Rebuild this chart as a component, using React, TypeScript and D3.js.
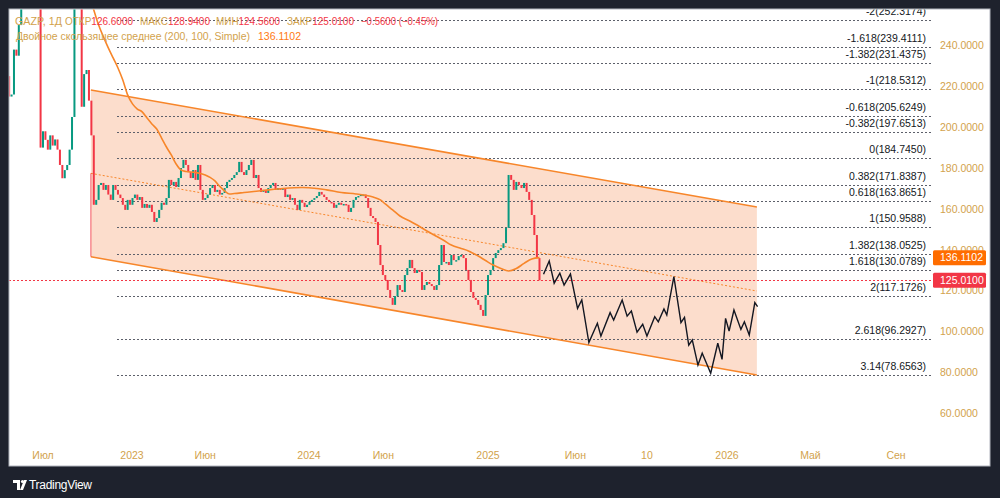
import { useRef, useEffect } from "react";
import * as d3 from "d3";

// ---- data ----
const candleStart = "2022-04-22";
const candleStepDays = 5;
const closes = [
  215, 216, 238, 235, 250, 275, 290, 300, 295, 300, 298, 295, 297, 190, 198, 193.8, 189, 196, 191, 194,
  189, 181.5, 175, 179, 181.5, 189, 205, 270, 290, 285, 210, 226, 228, 213, 196, 162, 164.4, 171.7, 172.7, 169.3,
  171.7, 167, 164.4, 171.7, 169.3, 167, 165.3, 162, 159.5, 164.4, 162, 165.3, 167, 164.4, 165.8, 160.5, 162.4, 160.5, 162, 158.5,
  153.6, 155.5, 159.5, 163, 162, 165.3, 174.2, 171.7, 173.2, 170.7, 175.1, 180, 184, 181.5, 178, 175.1, 179, 174.2, 181.5, 169.3,
  164.4, 165.3, 167, 170.2, 171.7, 168.3, 169.3, 167, 167.8, 170.2, 173.2, 174.2, 175.1, 176.6, 178, 183, 178, 176.6, 179, 181.5,
  184, 175.1, 176.6, 170.2, 168.3, 169.3, 167.8, 170.2, 171.7, 172.7, 169.3, 170.2, 169.3, 170.2, 165.8, 167, 164.4, 165.3, 162, 159.5,
  164.4, 163, 160.9, 162, 163.4, 164.4, 165.3, 166.3, 168.3, 167, 165.8, 164.4, 163.4, 163, 160.5, 162, 163, 162, 162.4, 162,
  158.5, 160.5, 164.4, 165.8, 166.3, 167, 167, 165.3, 160.5, 156.5, 155.5, 153.6, 142.3, 132.5, 127.6, 125.2, 120.3, 116.4, 113, 117.3,
  122.7, 120.3, 119.3, 127.6, 131, 135, 131, 128.6, 130.1, 129.1, 120.3, 122.7, 124.2, 123.2, 122.2, 120.3, 122.7, 132.5, 142.3, 134,
  134, 132.5, 137.4, 134.9, 134.9, 136.9, 137.4, 135.9, 130.1, 125.2, 119.3, 116.4, 115.4, 113, 110.5, 107.6, 117.8, 127.6, 130.1, 135.9,
  138.4, 139.8, 140.8, 143.2, 150.7, 176.6, 174.2, 169.3, 173.2, 171.7, 170.2, 172.7, 168.3, 164.4, 157, 147.2, 135.9, 125.01,
];

// double moving average (200, 100, Simple), by candle index
const maIndex = [33, 35, 37, 39, 41, 43, 45, 47, 49, 51, 53, 55, 57, 59, 61, 63, 65, 67, 69, 71, 73, 77, 81, 83, 85, 87, 89, 91, 93, 97,
  101, 107, 113, 121, 127, 131, 137, 143, 147, 150, 153, 155, 158, 161, 165, 168, 172, 175, 179, 182, 186, 189, 193, 196, 199, 202, 205, 208, 211, 214, 217];
const maValues = [264.7, 257.4, 250, 244.2, 238.8, 233.9, 229, 223.1, 215.8, 211.4, 208.9, 207.5, 204.5, 201.6, 199.1, 194.7, 190.3, 186.4, 182, 179.1,
  178.3, 177.8, 176.6, 175.4, 173.7, 171, 168.8, 167.3, 167.5, 168, 168.5, 169.3, 170, 170.5, 170, 169.3, 168, 167.3, 166.6, 165.8,
  164.4, 162.4, 159.5, 156.5, 154.1, 152.1, 149.2, 147.2, 144.5, 142.3, 140.6, 139.4, 136.9, 134.7, 132.5, 130.8, 129.6, 130.8, 133.3, 135.5, 136.1102];

// projected path (days after projection start)
const projStart = "2025-04-12";
const projDays = [5, 13, 20, 28, 34, 43, 53, 59, 69, 81, 86, 99, 104, 116, 123, 129, 137, 145, 151, 162, 167, 175, 179, 189, 199,
  204, 210, 215, 223, 229, 241, 251, 257, 262, 267, 274, 284, 289, 296, 304, 308];
const projValues = [128, 134.5, 123.6, 128.5, 122.7, 128.1, 111.3, 115.4, 94.5, 104, 97.7, 109.2, 105.6, 115.4, 107.5, 110, 99.6, 103.5, 97.7, 107.2,
  104.7, 111, 108, 126.8, 104.3, 106.9, 93.3, 95.8, 83.5, 89.3, 79.5, 94.2, 86.3, 106.4, 100.2, 110.5, 101, 104.7, 98.2, 114.1, 112.1];

// fibonacci levels
const fibRatios = ["-2", "-1.618", "-1.382", "-1", "-0.618", "-0.382", "0", "0.382", "0.618", "1", "1.382", "1.618", "2", "2.618", "3.14"];
const fibValues = [252.3174, 239.4111, 231.4375, 218.5312, 205.6249, 197.6513, 184.745, 171.8387, 163.8651, 150.9588, 138.0525, 130.0789, 117.1726, 96.2927, 78.6563];
const fibStart = "2022-12-01";

// regression channel
const channelDates = ["2022-10-08", "2026-02-13"];
const channelUpper = [218.2, 160.9];
const channelLower = [136.6, 78.65];

const priceTicks = [60, 80, 100, 120, 140, 160, 180, 200, 220, 240];
const timeTickDates = ["2022-07-01", "2023-01-01", "2023-06-01", "2024-01-01", "2024-06-01", "2025-01-01", "2025-06-01", "2025-09-10", "2026-01-01", "2026-05-01", "2026-09-01"];
const timeTickLabels = ["Июл", "2023", "Июн", "2024", "Июн", "2025", "Июн", "10", "2026", "Май", "Сен"];

const lastOpen = 126.6;
const lastHigh = 128.94;
const lastLow = 124.56;
const lastClose = 125.01;
const lastChange = -0.56;
const lastChangePct = -0.45;
const maLast = 136.1102;

// ---- layout ----
const W = 1000;
const H = 498;
const panel = { left: 9, top: 9, right: 990, bottom: 466 };
const plotRight = 933;
const FONT = "'Liberation Sans', Arial, sans-serif";
const TAN = "#d2a24c";
const RED = "#f23645";
const GREEN = "#089981";
const ORANGE = "#f7862a";
const DARK = "#1e222d";

const fmt4 = d3.format(".4f");
const minus = (s: string) => s.replace(/-/g, "−");

export default function App() {
  const svgRef = useRef<SVGSVGElement>(null);

  useEffect(() => {
    const svg = d3.select(svgRef.current);
    svg.selectAll("*").remove();
    svg.attr("viewBox", [0, 0, W, H] as any);

    const parse = d3.utcParse("%Y-%m-%d");
    // piecewise time scale: trading-day spacing for history, calendar spacing for the future
    const x = d3.scaleUtc()
      .domain(["2022-07-01", "2023-01-01", "2024-01-01", "2025-01-01", "2025-04-12", "2026-01-01", "2026-09-01"].map((d) => parse(d)!))
      .range([43, 132, 309, 488, 540, 727, 896]);
    const y = d3.scaleLinear().domain([60, 240]).range([413.1, 45.5]);

    const candleDate = (i: number) => d3.utcDay.offset(parse(candleStart)!, i * candleStepDays);

    // frame
    svg.append("rect").attr("width", W).attr("height", H).attr("fill", DARK);
    svg.append("rect")
      .attr("x", panel.left).attr("y", panel.top)
      .attr("width", panel.right - panel.left).attr("height", panel.bottom - panel.top)
      .attr("fill", "#ffffff").attr("stroke", "#b2b5be").attr("stroke-width", 1);

    svg.append("defs").append("clipPath").attr("id", "plot")
      .append("rect")
      .attr("x", panel.left + 0.5).attr("y", panel.top + 0.5)
      .attr("width", plotRight - panel.left).attr("height", 440 - panel.top);

    const g = svg.append("g").attr("clip-path", "url(#plot)");

    // channel
    const cx0 = x(parse(channelDates[0])!);
    const cx1 = x(parse(channelDates[1])!);
    g.append("path")
      .attr("d", `M${cx0},${y(channelUpper[0])}L${cx1},${y(channelUpper[1])}L${cx1},${y(channelLower[1])}L${cx0},${y(channelLower[0])}Z`)
      .attr("fill", "rgba(242,120,50,0.25)");

    // fib levels
    const fx0 = x(parse(fibStart)!);
    fibValues.forEach((v) => {
      g.append("line")
        .attr("x1", fx0).attr("x2", plotRight)
        .attr("y1", Math.round(y(v)) + 0.5).attr("y2", Math.round(y(v)) + 0.5)
        .attr("stroke", "#5d606b").attr("stroke-dasharray", "2,2").attr("stroke-width", 1);
    });

    const midLine = [(channelUpper[0] + channelLower[0]) / 2, (channelUpper[1] + channelLower[1]) / 2];
    g.append("line")
      .attr("x1", cx0).attr("y1", y(midLine[0])).attr("x2", cx1).attr("y2", y(midLine[1]))
      .attr("stroke", ORANGE).attr("stroke-width", 1).attr("stroke-dasharray", "2,2");
    g.append("line")
      .attr("x1", cx0).attr("y1", y(channelUpper[0])).attr("x2", cx1).attr("y2", y(channelUpper[1]))
      .attr("stroke", ORANGE).attr("stroke-width", 1.6);
    g.append("line")
      .attr("x1", cx0).attr("y1", y(channelLower[0])).attr("x2", cx1).attr("y2", y(channelLower[1]))
      .attr("stroke", ORANGE).attr("stroke-width", 1.6);
    g.append("line")
      .attr("x1", cx0).attr("y1", y(midLine[0])).attr("x2", cx0).attr("y2", y(channelLower[0]))
      .attr("stroke", RED).attr("stroke-width", 1).attr("opacity", 0.8);

    // last price line
    g.append("line")
      .attr("x1", panel.left).attr("x2", plotRight)
      .attr("y1", Math.round(y(lastClose)) + 0.5).attr("y2", Math.round(y(lastClose)) + 0.5)
      .attr("stroke", RED).attr("stroke-width", 1).attr("stroke-dasharray", "2,2");

    // candles
    const bw = 2;
    closes.forEach((c, i) => {
      const o = i === 0 ? 225 : closes[i - 1];
      const cxp = x(candleDate(i));
      const top = y(Math.max(o, c));
      const bot = y(Math.min(o, c));
      g.append("rect")
        .attr("x", cxp - bw / 2).attr("y", top)
        .attr("width", bw).attr("height", Math.max(1.5, bot - top))
        .attr("fill", c >= o ? GREEN : RED);
    });

    // moving average
    const maLine = d3.line<number>()
      .x((_, k) => x(candleDate(maIndex[k])))
      .y((v) => y(v))
      .curve(d3.curveMonotoneX);
    g.append("path").attr("d", maLine(maValues))
      .attr("fill", "none").attr("stroke", ORANGE).attr("stroke-width", 1.6);

    // projection
    const projLine = d3.line<number>()
      .x((_, k) => x(d3.utcDay.offset(parse(projStart)!, projDays[k])))
      .y((v) => y(v));
    g.append("path").attr("d", projLine(projValues))
      .attr("fill", "none").attr("stroke", "#131722").attr("stroke-width", 1.4).attr("stroke-linejoin", "miter");

    // fib labels
    fibValues.forEach((v, k) => {
      g.append("text")
        .attr("x", 926).attr("y", y(v) - 5)
        .attr("text-anchor", "end")
        .attr("font-family", FONT).attr("font-size", 10.5).attr("fill", "#131722")
        .text(`${fibRatios[k]}(${fmt4(v)})`);
    });

    // price axis
    priceTicks.forEach((t) => {
      svg.append("text")
        .attr("x", 940).attr("y", y(t) + 3.8)
        .attr("font-family", FONT).attr("font-size", 10.5).attr("fill", TAN)
        .text(fmt4(t));
    });

    const tag = (v: number, fill: string) => {
      const yy = y(v);
      svg.append("rect").attr("x", 933).attr("y", yy - 7.5).attr("width", 53).attr("height", 15)
        .attr("rx", 1.5).attr("fill", fill);
      svg.append("text").attr("x", 940).attr("y", yy + 3.8)
        .attr("font-family", FONT).attr("font-size", 10.5).attr("fill", "#ffffff")
        .text(fmt4(v));
    };
    tag(maLast, "#ff6d00");
    tag(lastClose, RED);

    // time axis
    timeTickDates.forEach((d, k) => {
      svg.append("text")
        .attr("x", x(parse(d)!)).attr("y", 459)
        .attr("text-anchor", "middle")
        .attr("font-family", FONT).attr("font-size", 10.5).attr("fill", TAN)
        .text(timeTickLabels[k]);
    });

    // legend, each group squeezed to the width it takes in the original
    const legend = svg.append("g").attr("font-family", FONT).attr("font-size", 10.5);
    const groups: { parts: [string, string][]; x0: number; w: number }[] = [
      { parts: [["GAZP, 1Д", TAN]], x0: 15, w: 47 },
      { parts: [["ОТКР", TAN], [fmt4(lastOpen), RED]], x0: 65, w: 68 },
      { parts: [["МАКС", TAN], [fmt4(lastHigh), RED]], x0: 140, w: 70 },
      { parts: [["МИН", TAN], [fmt4(lastLow), RED]], x0: 216, w: 64 },
      { parts: [["ЗАКР", TAN], [fmt4(lastClose), RED]], x0: 287, w: 67 },
      { parts: [[`${minus(fmt4(lastChange))} (${minus(d3.format(".2f")(lastChangePct))}%)`, RED]], x0: 361, w: 77 },
    ];
    groups.forEach((gr) => {
      const t = legend.append("text").attr("x", gr.x0).attr("y", 25)
        .attr("textLength", gr.w).attr("lengthAdjust", "spacingAndGlyphs");
      gr.parts.forEach(([s, c]) => t.append("tspan").attr("fill", c).text(s));
    });
    legend.append("text").attr("x", 16).attr("y", 40).attr("fill", TAN)
      .attr("textLength", 234).attr("lengthAdjust", "spacingAndGlyphs")
      .text("Двойное скользящее среднее (200, 100, Simple)");
    legend.append("text").attr("x", 258).attr("y", 40).attr("fill", "#ff7a12").text(fmt4(maLast));

    // tradingview mark
    const logo = svg.append("g").attr("fill", "#ffffff");
    logo.append("path").attr("d", "M13,480h7v10h-3v-7h-4z");
    logo.append("circle").attr("cx", 22.5).attr("cy", 481.5).attr("r", 1.6);
    logo.append("path").attr("d", "M24,480h3l-4,10h-3z");
    logo.append("text").attr("x", 29).attr("y", 489).attr("font-family", FONT)
      .attr("font-size", 12).attr("fill", "#ffffff").attr("letter-spacing", -0.3).text("TradingView");
  }, []);

  return (
    <div style={{ position: "fixed", left: 0, top: 0, width: W, height: H }}>
      <svg ref={svgRef} width={W} height={H}></svg>
    </div>
  );
}
